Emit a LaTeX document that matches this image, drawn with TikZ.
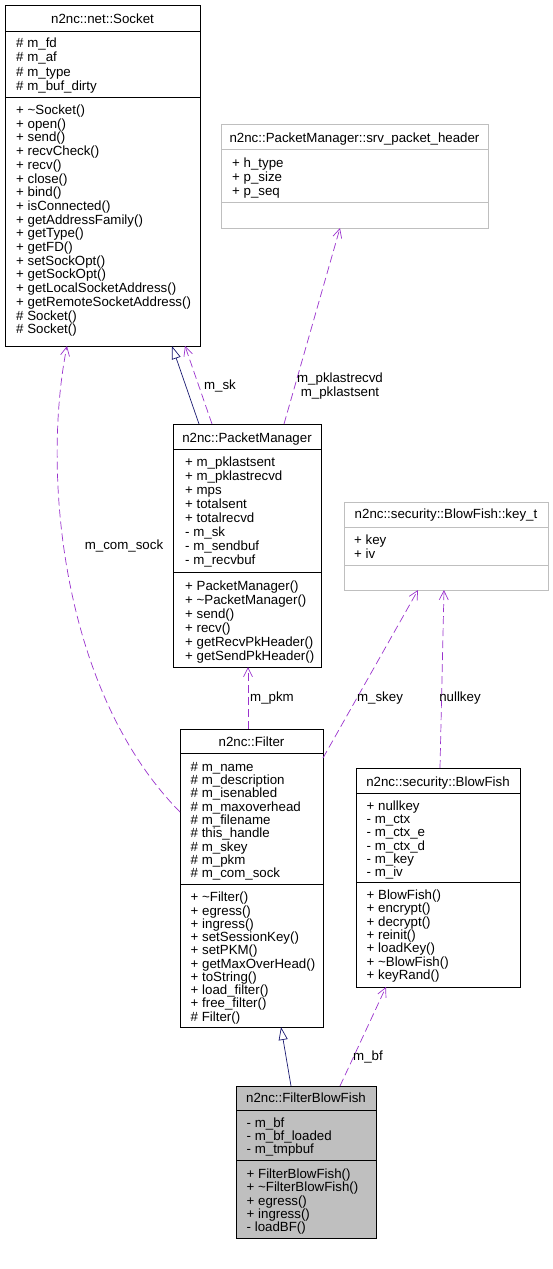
\documentclass[tikz,border=0pt]{standalone}
\usepackage{fontspec}
\setmainfont{Liberation Sans}
\usetikzlibrary{arrows.meta}
\definecolor{edgepurple}{HTML}{9A32CD}
\definecolor{edgeblue}{HTML}{191970}
\definecolor{boxgray}{HTML}{BFBFBF}

\begin{document}
\begin{tikzpicture}[x=1pt,y=-1pt,
    font=\fontsize{13.3}{14}\selectfont,
    classbox/.style={draw=black,line width=0.8pt,inner sep=0pt,outer sep=0pt,anchor=north west},
    refbox/.style={classbox,draw=boxgray},
    classtitle/.style={anchor=base,inner sep=0pt},
    member/.style={anchor=base west,inner sep=0pt},
    uses/.style={draw=edgepurple,line width=0.7pt,dash pattern=on 8pt off 4pt,
      -{Straight Barb[length=9pt,width=9pt]}},
    isa/.style={draw=edgeblue,line width=0.7pt,-{Triangle[open,length=13pt,width=9pt,fill=white]}},
    lbl/.style={inner sep=0pt}]
    \useasboundingbox (0,0) rectangle (552,1269);

    % boxes
    \node[classbox,minimum width=195pt,minimum height=341pt] (socket) at (5,5) {};
    \node[refbox,minimum width=267pt,minimum height=104pt] (srvhdr) at (221,124) {};
    \node[classbox,minimum width=148pt,minimum height=243pt] (pktmgr) at (173,424) {};
    \node[refbox,minimum width=204pt,minimum height=88pt] (keyt) at (344,502) {};
    \node[classbox,minimum width=143pt,minimum height=298pt] (filter) at (180,729) {};
    \node[classbox,minimum width=164pt,minimum height=219pt] (blowfish) at (356,768) {};
    \node[classbox,fill=boxgray,minimum width=140pt,minimum height=152pt] (fbf) at (236,1086) {};

    % compartments
    \draw[line width=0.8pt] (socket.west |- 0,31) -- (socket.east |- 0,31);
    \draw[line width=0.8pt] (socket.west |- 0,97) -- (socket.east |- 0,97);
    \draw[line width=0.8pt,boxgray] (srvhdr.west |- 0,149) -- (srvhdr.east |- 0,149);
    \draw[line width=0.8pt,boxgray] (srvhdr.west |- 0,202) -- (srvhdr.east |- 0,202);
    \draw[line width=0.8pt] (pktmgr.west |- 0,449) -- (pktmgr.east |- 0,449);
    \draw[line width=0.8pt] (pktmgr.west |- 0,572) -- (pktmgr.east |- 0,572);
    \draw[line width=0.8pt,boxgray] (keyt.west |- 0,527) -- (keyt.east |- 0,527);
    \draw[line width=0.8pt,boxgray] (keyt.west |- 0,565) -- (keyt.east |- 0,565);
    \draw[line width=0.8pt] (filter.west |- 0,753) -- (filter.east |- 0,753);
    \draw[line width=0.8pt] (filter.west |- 0,884) -- (filter.east |- 0,884);
    \draw[line width=0.8pt] (blowfish.west |- 0,793) -- (blowfish.east |- 0,793);
    \draw[line width=0.8pt] (blowfish.west |- 0,882) -- (blowfish.east |- 0,882);
    \draw[line width=0.8pt] (fbf.west |- 0,1110) -- (fbf.east |- 0,1110);
    \draw[line width=0.8pt] (fbf.west |- 0,1160) -- (fbf.east |- 0,1160);

    % titles
    \node[classtitle] (sockettitle) at (socket.north |- 0,23.5) {n2nc::net::Socket};
    \node[classtitle] (srvhdrtitle) at (srvhdr.north |- 0,142.2) {n2nc::PacketManager::srv\_packet\_header};
    \node[classtitle] (pktmgrtitle) at (pktmgr.north |- 0,442.2) {n2nc::PacketManager};
    \node[classtitle] (keyttitle) at (keyt.north |- 0,518.8) {n2nc::security::BlowFish::key\_t};
    \node[classtitle] (filtertitle) at (filter.north |- 0,746.2) {n2nc::Filter};
    \node[classtitle] (blowfishtitle) at (blowfish.north |- 0,786.2) {n2nc::security::BlowFish};
    \node[classtitle] (fbftitle) at (fbf.north |- 0,1102.8) {n2nc::FilterBlowFish};

    % members
    \foreach \m [count=\i] in {\# m\_fd,\# m\_af,\# m\_type,\# m\_buf\_dirty}
      \node[member] (socketa\i) at (16,{47.5+(\i-1)*14.3}) {\m};
    \foreach \m [count=\i] in {+ \textasciitilde Socket(),+ open(),+ send(),+ recvCheck(),+ recv(),
        + close(),+ bind(),+ isConnected(),+ getAddressFamily(),+ getType(),+ getFD(),
        + setSockOpt(),+ getSockOpt(),+ getLocalSocketAddress(),+ getRemoteSocketAddress(),
        \# Socket(),\# Socket()}
      \node[member] (socketm\i) at (16,{114.5+(\i-1)*13.7}) {\m};
    \foreach \m [count=\i] in {+ h\_type,+ p\_size,+ p\_seq}
      \node[member] (srvhdra\i) at (232,{167.2+(\i-1)*14.2}) {\m};
    \foreach \m [count=\i] in {+ m\_pklastsent,+ m\_pklastrecvd,+ mps,+ totalsent,+ totalrecvd,
        - m\_sk,- m\_sendbuf,- m\_recvbuf}
      \node[member] (pktmgra\i) at (185,{466.5+(\i-1)*13.96}) {\m};
    \foreach \m [count=\i] in {+ PacketManager(),+ \textasciitilde PacketManager(),+ send(),+ recv(),
        + getRecvPkHeader(),+ getSendPkHeader()}
      \node[member] (pktmgrm\i) at (185,{590.5+(\i-1)*13.9}) {\m};
    \foreach \m [count=\i] in {+ key,+ iv}
      \node[member] (keyta\i) at (354,{544.5+(\i-1)*14}) {\m};
    \foreach \m [count=\i] in {\# m\_name,\# m\_description,\# m\_isenabled,\# m\_maxoverhead,
        \# m\_filename,\# this\_handle,\# m\_skey,\# m\_pkm,\# m\_com\_sock}
      \node[member] (filtera\i) at (190.5,{771.2+(\i-1)*13.33}) {\m};
    \foreach \m [count=\i] in {+ \textasciitilde Filter(),+ egress(),+ ingress(),+ setSessionKey(),
        + setPKM(),+ getMaxOverHead(),+ toString(),+ load\_filter(),+ free\_filter(),\# Filter()}
      \node[member] (filterm\i) at (190.5,{901.8+(\i-1)*13.27}) {\m};
    \foreach \m [count=\i] in {+ nullkey,- m\_ctx,- m\_ctx\_e,- m\_ctx\_d,- m\_key,- m\_iv}
      \node[member] (blowfisha\i) at (366.5,{810.2+(\i-1)*13.3}) {\m};
    \foreach \m [count=\i] in {+ BlowFish(),+ encrypt(),+ decrypt(),+ reinit(),+ loadKey(),
        + \textasciitilde BlowFish(),+ keyRand()}
      \node[member] (blowfishm\i) at (366.5,{899.2+(\i-1)*13.4}) {\m};
    \foreach \m [count=\i] in {- m\_bf,- m\_bf\_loaded,- m\_tmpbuf}
      \node[member] (fbfa\i) at (246.5,{1127.2+(\i-1)*13.2}) {\m};
    \foreach \m [count=\i] in {+ FilterBlowFish(),+ \textasciitilde FilterBlowFish(),+ egress(),
        + ingress(),- loadBF()}
      \node[member] (fbfm\i) at (246.5,{1178.5+(\i-1)*13.3}) {\m};

    % relations
    \draw[isa] (199,0 |- pktmgr.north) -- (172,0 |- socket.south);
    \draw[uses] (212,0 |- pktmgr.north) -- (185,0 |- socket.south);
    \node[lbl] (lsk) at (220,386) {m\_sk};
    \draw[uses] (284,0 |- pktmgr.north) -- (340,0 |- srvhdr.south);
    \node[lbl,align=center] (lpk) at (340,386) {m\_pklastrecvd\\m\_pklastsent};
    \draw[uses] (filter.west |- 0,812) .. controls (60,690) and (42,470) .. (67,0 |- socket.south);
    \node[lbl] (lcom) at (124,546) {m\_com\_sock};
    \draw[uses] (248,0 |- filter.north) -- (248,0 |- pktmgr.south);
    \node[lbl] (lpkm) at (272,698) {m\_pkm};
    \draw[uses] (filter.east |- 0,758) -- (418,0 |- keyt.south);
    \node[lbl] (lskey) at (380,698) {m\_skey};
    \draw[uses] (440,0 |- blowfish.north) -- (444,0 |- keyt.south);
    \node[lbl] (lnull) at (460,698) {nullkey};
    \draw[isa] (291,0 |- fbf.north) -- (281,0 |- filter.south);
    \draw[uses] (340,0 |- fbf.north) -- (386,0 |- blowfish.south);
    \node[lbl] (lbf) at (368,1057) {m\_bf};
\end{tikzpicture}
\end{document}
